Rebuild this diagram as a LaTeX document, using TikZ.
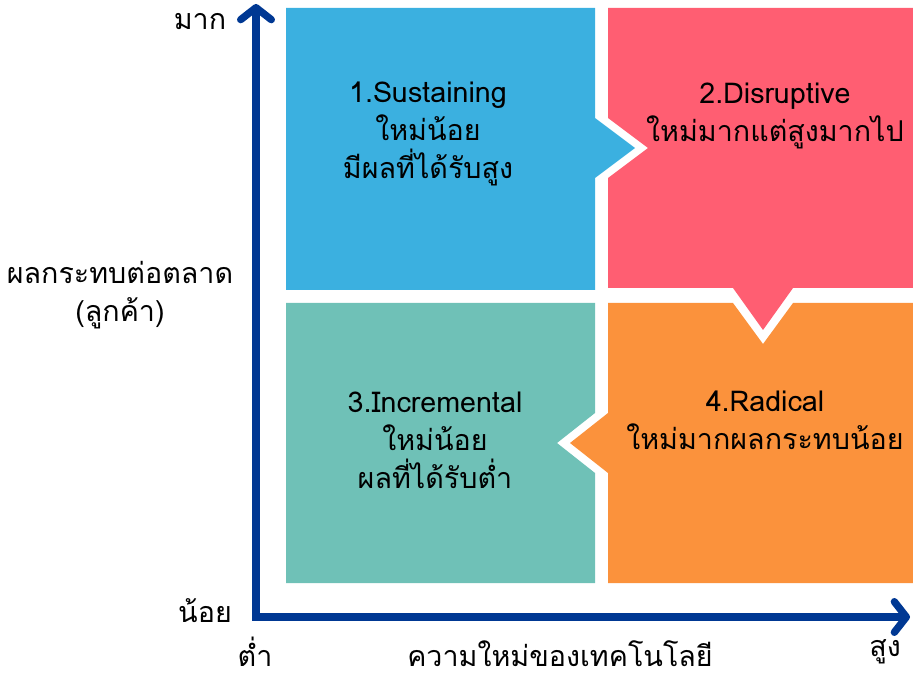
\documentclass[tikz,border=0pt]{standalone}
\usepackage{fontspec}
\setmainfont[Script=Thai]{Loma}
\usepackage{xcolor}
\usetikzlibrary{arrows.meta}

\definecolor{qblue}{RGB}{59,176,224}
\definecolor{qpink}{RGB}{255,94,114}
\definecolor{qgreen}{RGB}{111,193,183}
\definecolor{qorange}{RGB}{251,146,60}
\definecolor{axisblue}{RGB}{0,56,147}

\begin{document}
\begin{tikzpicture}[x=0.75pt, y=-0.75pt,
  qtext/.style={align=center, font=\fontsize{21.5}{28.5}\selectfont, inner sep=0pt},
  atext/.style={align=center, font=\fontsize{21.5}{29}\selectfont, inner sep=0pt},
  axis/.style={line width=5.5pt, draw=axisblue,
               -{Straight Barb[length=9pt, width=23pt, line cap=round, line join=round]}}
]
\useasboundingbox (0,0) rectangle (913,680);
% quadrants
\fill[qblue] (286,8) -- (595,8) -- (595,118) -- (635,148) -- (595,178)
  -- (595,290) -- (286,290) -- cycle;
\fill[qpink] (608,8) -- (913,8) -- (913,288) -- (793,288) -- (763,330)
  -- (733,288) -- (608,288) -- (608,178) -- (648,148) -- (608,118) -- cycle;
\fill[qgreen] (286,303) -- (595,303) -- (595,413) -- (557,443) -- (595,473)
  -- (595,583) -- (286,583) -- cycle;
\fill[qorange] (608,303) -- (733,303) -- (763,344) -- (793,303) -- (913,303)
  -- (913,583) -- (608,583) -- (608,473) -- (570,443) -- (608,413) -- cycle;
\node[qtext] (sustain) at (428,134) {1.Sustaining\\ใหม่น้อย\\มีผลที่ได้รับสูง};
\node[qtext] (disrupt) at (775,116) {2.Disruptive\\ใหม่มากแต่สูงมากไป};
\node[qtext] (increm) at (435,440) {3.Incremental\\ใหม่น้อย\\ผลที่ได้รับต่ำ};
\node[qtext] (radical) at (765,420) {4.Radical\\ใหม่มากผลกระทบน้อย};
% axes
\coordinate (origin) at (256,617);
\coordinate (ytop) at (256,4);
\coordinate (xend) at (910,617);
\draw[axis] ([yshift=-2.7pt]origin) -- (ytop);
\draw[axis] ([xshift=-2.7pt]origin) -- (xend);
\node[atext] (ymax) at (200,22) {มาก};
\node[atext] (ymin) at (205,611) {น้อย};
\node[atext] (xmin) at (255,652) {ต่ำ};
\node[atext] (xmax) at (885,652) {สูง};
\node[atext] (xlabel) at (560,654) {ความใหม่ของเทคโนโลยี};
\node[atext] (ylabel) at (120,295) {ผลกระทบต่อตลาด\\(ลูกค้า)};
\end{tikzpicture}
\end{document}
